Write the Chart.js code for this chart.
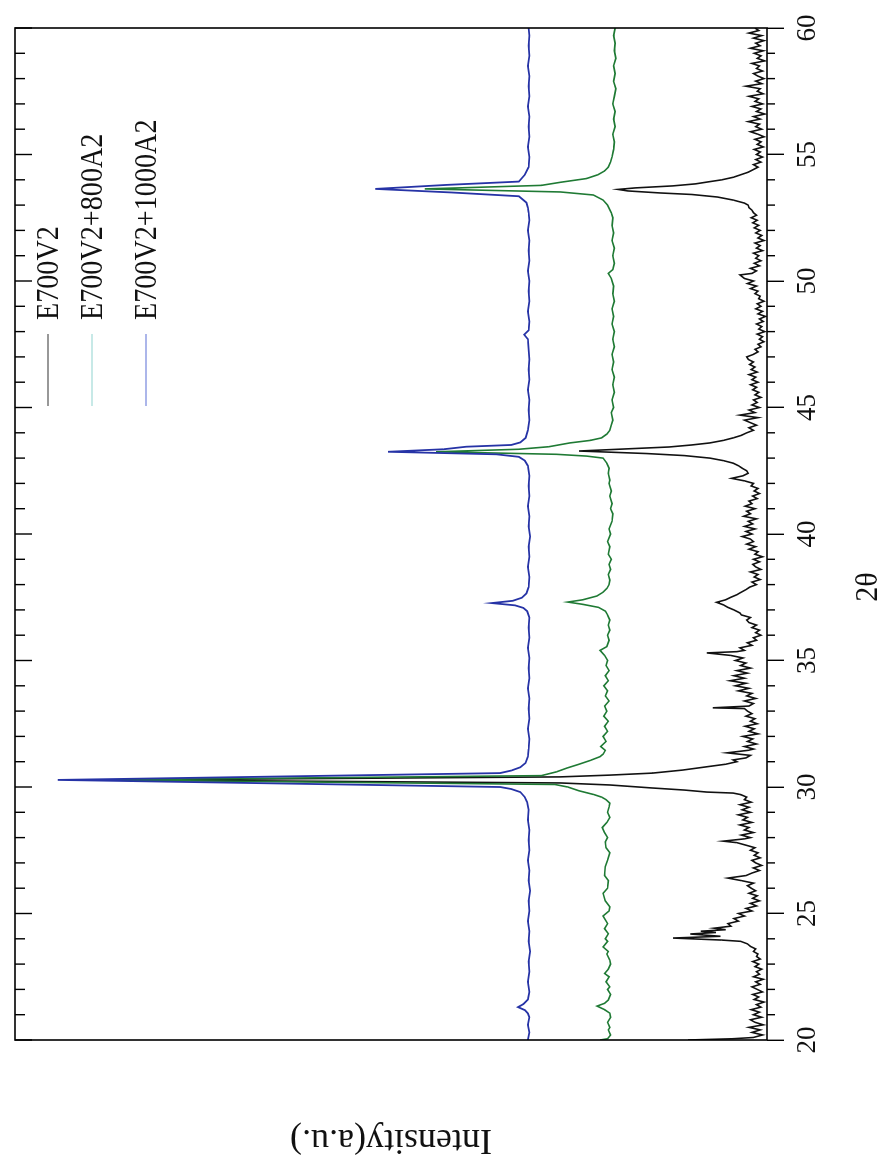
<!DOCTYPE html>
<html>
<head>
<meta charset="utf-8">
<title>XRD patterns</title>
<script src="https://cdn.jsdelivr.net/npm/chart.js@4.4.1/dist/chart.umd.min.js"></script>
<style>
  html, body { margin: 0; padding: 0; background: #fff; overflow: hidden; }
  body { width: 880px; height: 1157px; position: relative; }
  /* the plot is laid out landscape and turned a quarter turn counter-clockwise */
  #wrap {
    position: absolute; left: 0; top: 0;
    width: 1157px; height: 880px;
    transform-origin: 0 0;
    transform: translateY(1157px) rotate(-90deg);
  }
  canvas { display: block; }
</style>
</head>
<body>
<div id="wrap"><canvas id="xrd" width="1157" height="880"></canvas></div>
<script>
// ---- diffraction scans: [2θ (deg), intensity (a.u.)] ----
const seriesNames = ['E700V2', 'E700V2+800A2', 'E700V2+1000A2'];

const scanE700V2 = [
  [20.0,105],[20.05,45],[20.1,18],[20.2,6],[20.3,20],[20.4,9],[20.5,24],[20.6,5],[20.7,16],[20.8,22],[20.9,7],
  [21.0,18],[21.1,10],[21.2,21],[21.3,8],[21.4,14],[21.5,4],[21.6,17],[21.7,11],[21.8,19],[21.9,6],
  [22.0,13],[22.1,20],[22.2,9],[22.3,15],[22.4,5],[22.5,18],[22.6,10],[22.7,14],[22.8,7],[22.9,16],
  [23.0,11],[23.1,19],[23.2,9],[23.3,14],[23.4,12],[23.5,18],[23.6,15],[23.7,22],[23.8,26],[23.9,35],
  [23.95,60],[24.03,125],[24.1,62],[24.19,102],[24.25,68],[24.3,88],[24.36,55],[24.42,70],[24.5,48],
  [24.6,52],[24.7,38],[24.8,44],[24.9,30],[25.0,38],[25.1,20],[25.2,28],[25.3,14],[25.4,22],[25.5,10],
  [25.6,19],[25.7,13],[25.8,24],[25.9,15],[26.0,21],[26.1,26],[26.2,18],[26.3,34],[26.4,52],[26.5,28],
  [26.6,20],[26.7,10],[26.8,18],[26.9,7],[27.0,15],[27.1,20],[27.2,9],[27.3,17],[27.4,12],[27.5,22],
  [27.6,16],[27.7,28],[27.8,40],[27.86,58],[27.95,30],[28.0,22],[28.1,34],[28.2,18],[28.3,30],[28.4,24],
  [28.5,36],[28.6,20],[28.7,32],[28.8,26],[28.9,38],[29.0,22],[29.1,33],[29.2,24],[29.3,36],[29.4,21],
  [29.5,30],[29.6,27],[29.7,35],[29.76,45],[29.8,80],[29.88,110],[29.96,152],[30.08,209],[30.16,275],
  [30.28,854],[30.4,275],[30.47,209],[30.55,152],[30.67,112],[30.8,80],[30.9,55],[31.0,40],[31.07,45],
  [31.15,28],[31.25,22],[31.35,53],[31.45,25],[31.5,18],[31.6,30],[31.7,14],[31.8,26],[31.9,19],
  [32.0,32],[32.1,12],[32.2,24],[32.3,17],[32.4,29],[32.5,13],[32.6,22],[32.7,16],[32.8,28],[32.9,20],
  [33.0,26],[33.1,30],[33.13,72],[33.2,24],[33.3,18],[33.4,30],[33.5,15],[33.6,27],[33.7,20],[33.8,38],
  [33.9,24],[34.0,42],[34.1,28],[34.2,49],[34.3,30],[34.4,44],[34.5,26],[34.6,40],[34.7,22],[34.8,35],
  [34.9,28],[35.0,42],[35.1,32],[35.2,48],[35.3,80],[35.35,40],[35.4,30],[35.5,36],[35.6,20],[35.7,26],
  [35.8,14],[35.9,18],[36.0,8],[36.1,15],[36.2,10],[36.3,20],[36.4,14],[36.5,24],[36.6,27],[36.7,22],
  [36.8,34],[36.88,36],[37.0,44],[37.1,52],[37.2,58],[37.3,67],[37.4,55],[37.5,48],[37.6,40],[37.67,36],
  [37.8,28],[37.9,23],[38.0,14],[38.1,20],[38.2,9],[38.3,17],[38.4,12],[38.5,22],[38.6,8],[38.7,15],
  [38.8,19],[38.9,10],[39.0,18],[39.1,6],[39.2,16],[39.3,12],[39.4,24],[39.5,15],[39.6,27],[39.7,18],
  [39.8,22],[39.9,33],[40.0,20],[40.1,28],[40.2,16],[40.3,30],[40.4,19],[40.5,25],[40.6,14],[40.7,31],
  [40.8,22],[40.9,27],[41.0,16],[41.1,29],[41.2,20],[41.3,24],[41.4,13],[41.5,19],[41.6,10],[41.7,17],
  [41.8,12],[41.9,21],[42.0,18],[42.1,30],[42.2,47],[42.3,32],[42.4,25],[42.5,27],[42.6,33],[42.7,38],
  [42.8,45],[42.9,58],[43.0,76],[43.1,110],[43.18,160],[43.28,250],[43.36,190],[43.44,130],[43.52,100],
  [43.6,76],[43.7,58],[43.8,45],[43.9,34],[44.0,27],[44.1,18],[44.2,24],[44.3,14],[44.4,22],[44.5,30],
  [44.6,12],[44.7,36],[44.8,16],[44.9,24],[45.0,10],[45.1,20],[45.2,13],[45.3,18],[45.4,8],[45.5,16],
  [45.6,11],[45.7,19],[45.8,14],[45.9,22],[46.0,12],[46.1,20],[46.2,15],[46.3,24],[46.4,13],[46.5,21],
  [46.6,16],[46.7,23],[46.8,18],[46.9,25],[47.0,27],[47.1,18],[47.2,12],[47.3,16],[47.4,8],[47.5,12],
  [47.6,4],[47.7,10],[47.8,6],[47.9,13],[48.0,3],[48.1,11],[48.2,7],[48.3,14],[48.4,5],[48.5,10],
  [48.6,2],[48.7,12],[48.8,6],[48.9,15],[49.0,8],[49.1,13],[49.2,4],[49.3,11],[49.4,9],[49.5,16],
  [49.6,12],[49.7,22],[49.8,14],[49.9,26],[50.0,18],[50.1,30],[50.24,36],[50.3,20],[50.4,14],[50.5,22],
  [50.6,10],[50.7,17],[50.8,8],[50.9,15],[51.0,11],[51.1,18],[51.2,6],[51.3,14],[51.4,9],[51.5,16],
  [51.6,4],[51.7,12],[51.8,7],[51.9,15],[52.0,9],[52.1,17],[52.2,11],[52.3,19],[52.4,13],[52.5,21],
  [52.6,14],[52.7,18],[52.8,20],[52.9,24],[53.0,25],[53.08,30],[53.2,45],[53.32,66],[53.42,100],
  [53.48,142],[53.56,185],[53.62,198],[53.68,175],[53.76,125],[53.84,95],[53.91,80],[54.0,60],[54.1,45],
  [54.19,36],[54.3,25],[54.39,19],[54.5,12],[54.6,18],[54.7,8],[54.8,15],[54.9,6],[55.0,14],[55.1,9],
  [55.2,17],[55.3,5],[55.4,13],[55.5,8],[55.6,16],[55.7,4],[55.8,12],[55.9,22],[56.0,7],[56.1,15],
  [56.2,10],[56.3,25],[56.4,9],[56.5,18],[56.6,3],[56.7,14],[56.8,8],[56.9,20],[57.0,6],[57.1,16],
  [57.2,11],[57.3,24],[57.4,5],[57.5,13],[57.6,9],[57.7,28],[57.8,7],[57.9,15],[58.0,4],[58.1,12],
  [58.2,18],[58.3,6],[58.4,14],[58.5,10],[58.6,20],[58.7,3],[58.8,13],[58.9,8],[59.0,17],[59.1,5],
  [59.2,22],[59.3,9],[59.4,15],[59.5,4],[59.6,18],[59.7,7],[59.8,24],[59.9,11],[60.0,16]
];

const scanE700V2_800A2 = [
  [20.0,222],[20.05,212],[20.2,208],[20.4,211],[20.5,209],[20.7,212],[20.9,208],[21.06,209],[21.2,216],
  [21.34,226],[21.45,216],[21.58,211],[21.8,208],[22.0,212],[22.1,209],[22.3,214],[22.5,210],[22.63,216],
  [22.8,211],[23.0,208],[23.16,209],[23.4,213],[23.5,211],[23.68,218],[23.9,212],[24.0,215],[24.2,211],
  [24.4,216],[24.6,212],[24.9,218],[25.1,210],[25.26,209],[25.5,215],[25.8,218],[26.0,212],[26.3,211],
  [26.5,216],[26.85,215],[27.1,212],[27.4,209],[27.6,214],[27.83,215],[28.0,212],[28.2,216],[28.4,219],
  [28.6,213],[28.8,209],[29.0,212],[29.2,210],[29.36,209],[29.5,214],[29.6,220],[29.7,230],[29.85,250],
  [30.0,265],[30.1,282],[30.28,887],[30.45,300],[30.6,280],[30.75,266],[30.9,250],[31.05,235],[31.2,222],
  [31.3,218],[31.45,215],[31.6,221],[31.8,214],[32.0,218],[32.2,212],[32.4,216],[32.6,211],[32.8,217],
  [33.0,213],[33.2,216],[33.4,210],[33.6,215],[33.8,212],[34.0,217],[34.2,211],[34.4,215],[34.6,210],
  [34.8,214],[35.0,212],[35.2,216],[35.4,222],[35.55,213],[35.8,210],[36.0,212],[36.2,209],[36.4,211],
  [36.6,209],[36.8,212],[36.95,215],[37.1,224],[37.22,245],[37.31,265],[37.4,245],[37.55,226],[37.7,218],
  [37.85,213],[38.0,210],[38.18,209],[38.4,211],[38.6,208],[38.8,210],[39.0,207],[39.2,211],[39.5,209],
  [39.7,212],[40.0,208],[40.2,210],[40.5,206],[40.8,205],[41.0,208],[41.2,206],[41.5,209],[41.7,207],
  [42.0,210],[42.13,209],[42.4,211],[42.6,210],[42.8,213],[43.0,218],[43.08,240],[43.15,280],[43.25,440],
  [43.35,330],[43.45,290],[43.6,262],[43.7,235],[43.8,220],[43.95,213],[44.1,209],[44.3,207],[44.5,205],
  [44.8,207],[45.0,204],[45.3,206],[45.6,203],[45.9,205],[46.2,203],[46.5,206],[46.8,204],[47.1,206],
  [47.4,203],[47.7,205],[48.0,203],[48.3,206],[48.6,204],[48.9,206],[49.2,203],[49.5,205],[49.8,204],
  [50.1,207],[50.3,211],[50.45,205],[50.7,203],[51.0,205],[51.3,203],[51.6,206],[51.9,204],[52.2,206],
  [52.5,205],[52.7,207],[53.0,212],[53.2,218],[53.4,231],[53.52,275],[53.64,455],[53.78,300],[53.9,275],
  [54.05,240],[54.2,225],[54.35,216],[54.5,211],[54.7,208],[54.9,206],[55.2,204],[55.5,203],[55.8,205],
  [56.1,202],[56.4,204],[56.7,202],[57.0,205],[57.3,203],[57.6,201],[57.9,204],[58.2,202],[58.5,204],
  [58.8,201],[59.1,203],[59.4,202],[59.7,204],[60.0,202]
];

const scanE700V2_1000A2 = [
  [20.0,318],[20.3,316],[20.6,318],[20.9,316],[21.05,318],[21.18,322],[21.3,331],[21.42,324],[21.6,318],
  [21.9,316],[22.3,318],[22.7,316],[23.1,317],[23.5,315],[23.9,317],[24.3,316],[24.7,318],[25.1,316],
  [25.5,317],[25.9,315],[26.3,317],[26.7,316],[27.1,318],[27.5,316],[27.9,317],[28.3,316],[28.7,318],
  [29.1,317],[29.4,319],[29.6,322],[29.8,328],[29.92,340],[30.0,355],[30.28,943],[30.55,355],[30.65,340],
  [30.78,328],[30.95,321],[31.2,318],[31.5,317],[31.9,316],[32.3,318],[32.7,316],[33.1,317],[33.5,316],
  [33.9,318],[34.3,316],[34.7,317],[35.1,316],[35.5,318],[35.9,316],[36.3,317],[36.7,316],[36.95,319],
  [37.08,324],[37.18,335],[37.27,366],[37.36,338],[37.48,326],[37.65,320],[37.9,317],[38.3,316],[38.7,318],
  [39.1,316],[39.5,317],[39.9,315],[40.3,317],[40.7,316],[41.1,318],[41.5,316],[41.9,317],[42.3,316],
  [42.7,318],[42.9,322],[43.05,330],[43.15,360],[43.25,504],[43.35,430],[43.45,400],[43.52,340],
  [43.62,328],[43.8,321],[44.1,318],[44.5,316],[44.9,317],[45.3,316],[45.7,318],[46.1,316],[46.5,317],
  [46.9,316],[47.3,317],[47.7,318],[47.88,323],[48.05,317],[48.4,316],[48.8,318],[49.2,316],[49.6,317],
  [50.0,316],[50.4,318],[50.8,316],[51.2,317],[51.6,316],[52.0,318],[52.4,316],[52.7,317],[52.9,318],
  [53.1,320],[53.35,330],[53.5,420],[53.64,521],[53.8,425],[53.93,330],[54.2,322],[54.5,317],[54.9,316],
  [55.3,318],[55.7,316],[56.1,317],[56.5,316],[56.9,318],[57.3,316],[57.7,317],[58.1,316],[58.5,318],
  [58.9,316],[59.3,317],[59.7,316],[60.0,317]
];

// axis ranges and tick spacing
const twoThetaRange = [20, 60];
const twoThetaMajorStep = 5;
const twoThetaMinorStep = 1;
const intensityRange = [0, 1000];

const seriesColors = ['#111111', '#1f7a34', '#2633a6'];
const legendColors = ['#333333', '#8fd3cf', '#5b6fd6'];
const SERIF = "'Liberation Serif', 'Times New Roman', serif";

// frame of the plot and the small tick marks (minor ticks outside, all ticks on the far edge inside)
const framePlugin = {
  id: 'frame',
  afterDraw(chart) {
    const { ctx, chartArea: a, scales: { x } } = chart;
    ctx.save();
    ctx.strokeStyle = '#000';
    ctx.lineWidth = 1.6;
    ctx.strokeRect(a.left, a.top, a.right - a.left, a.bottom - a.top);
    ctx.lineWidth = 1.4;
    ctx.beginPath();
    for (let t = x.min; t <= x.max + 1e-9; t += twoThetaMinorStep) {
      const px = x.getPixelForValue(t);
      const major = Math.abs(t / twoThetaMajorStep - Math.round(t / twoThetaMajorStep)) < 1e-6;
      if (!major) {
        ctx.moveTo(px, a.bottom);
        ctx.lineTo(px, a.bottom + 8);
      }
      ctx.moveTo(px, a.top);
      ctx.lineTo(px, a.top + (major ? 17 : 10));
    }
    ctx.stroke();
    ctx.restore();
  }
};

// legend in the upper right of the plot, plus the 2θ axis caption
const captionPlugin = {
  id: 'captions',
  afterDraw(chart) {
    const { ctx } = chart;
    ctx.save();
    const rows = [48, 92, 146];
    seriesNames.forEach((name, i) => {
      ctx.strokeStyle = legendColors[i];
      ctx.lineWidth = 1.2;
      ctx.beginPath();
      ctx.moveTo(751, rows[i]);
      ctx.lineTo(823, rows[i]);
      ctx.stroke();
      ctx.save();
      ctx.translate(837, rows[i] + 10);
      ctx.scale(0.88, 1);
      ctx.fillStyle = '#111';
      ctx.font = '32px ' + SERIF;
      ctx.textBaseline = 'alphabetic';
      ctx.textAlign = 'left';
      ctx.fillText(name, 0, 0);
      ctx.restore();
    });
    ctx.save();
    ctx.translate(570, 877);
    ctx.scale(0.94, 1);
    ctx.fillStyle = '#111';
    ctx.font = '32px ' + SERIF;
    ctx.textAlign = 'center';
    ctx.textBaseline = 'alphabetic';
    ctx.fillText('2θ', 0, 0);
    ctx.restore();
    ctx.restore();
  }
};

const toDataset = (scan, i, width) => ({
  label: seriesNames[i],
  data: scan,
  borderColor: seriesColors[i],
  borderWidth: width,
  showLine: true,
  pointRadius: 0,
  tension: 0,
  order: 2 - i
});

new Chart(document.getElementById('xrd'), {
  type: 'scatter',
  data: {
    datasets: [
      toDataset(scanE700V2, 0, 1.6),
      toDataset(scanE700V2_800A2, 1, 1.6),
      toDataset(scanE700V2_1000A2, 2, 1.8)
    ]
  },
  options: {
    responsive: false,
    animation: false,
    devicePixelRatio: 1,
    layout: { padding: { top: 15, right: 28, left: 0, bottom: 0 } },
    plugins: { legend: { display: false }, tooltip: { enabled: false } },
    scales: {
      x: {
        type: 'linear',
        position: 'bottom',
        min: twoThetaRange[0],
        max: twoThetaRange[1],
        ticks: {
          stepSize: twoThetaMajorStep,
          color: '#111',
          padding: 8,
          maxRotation: 0,
          font: { family: SERIF, size: 27 }
        },
        grid: { drawOnChartArea: false, tickLength: 17, color: '#000', lineWidth: 1.4 },
        border: { display: false },
        afterFit(scale) { scale.height = 113; }
      },
      y: {
        min: intensityRange[0],
        max: intensityRange[1],
        ticks: { display: false },
        grid: { display: false, drawTicks: false },
        border: { display: false },
        title: {
          display: true,
          text: 'Intensity(a.u.)',
          color: '#111',
          padding: 0,
          font: { family: SERIF, size: 36, lineHeight: 1.0 }
        },
        afterFit(scale) { scale.width = 117; }
      }
    }
  },
  plugins: [framePlugin, captionPlugin]
});
</script>
</body>
</html>
